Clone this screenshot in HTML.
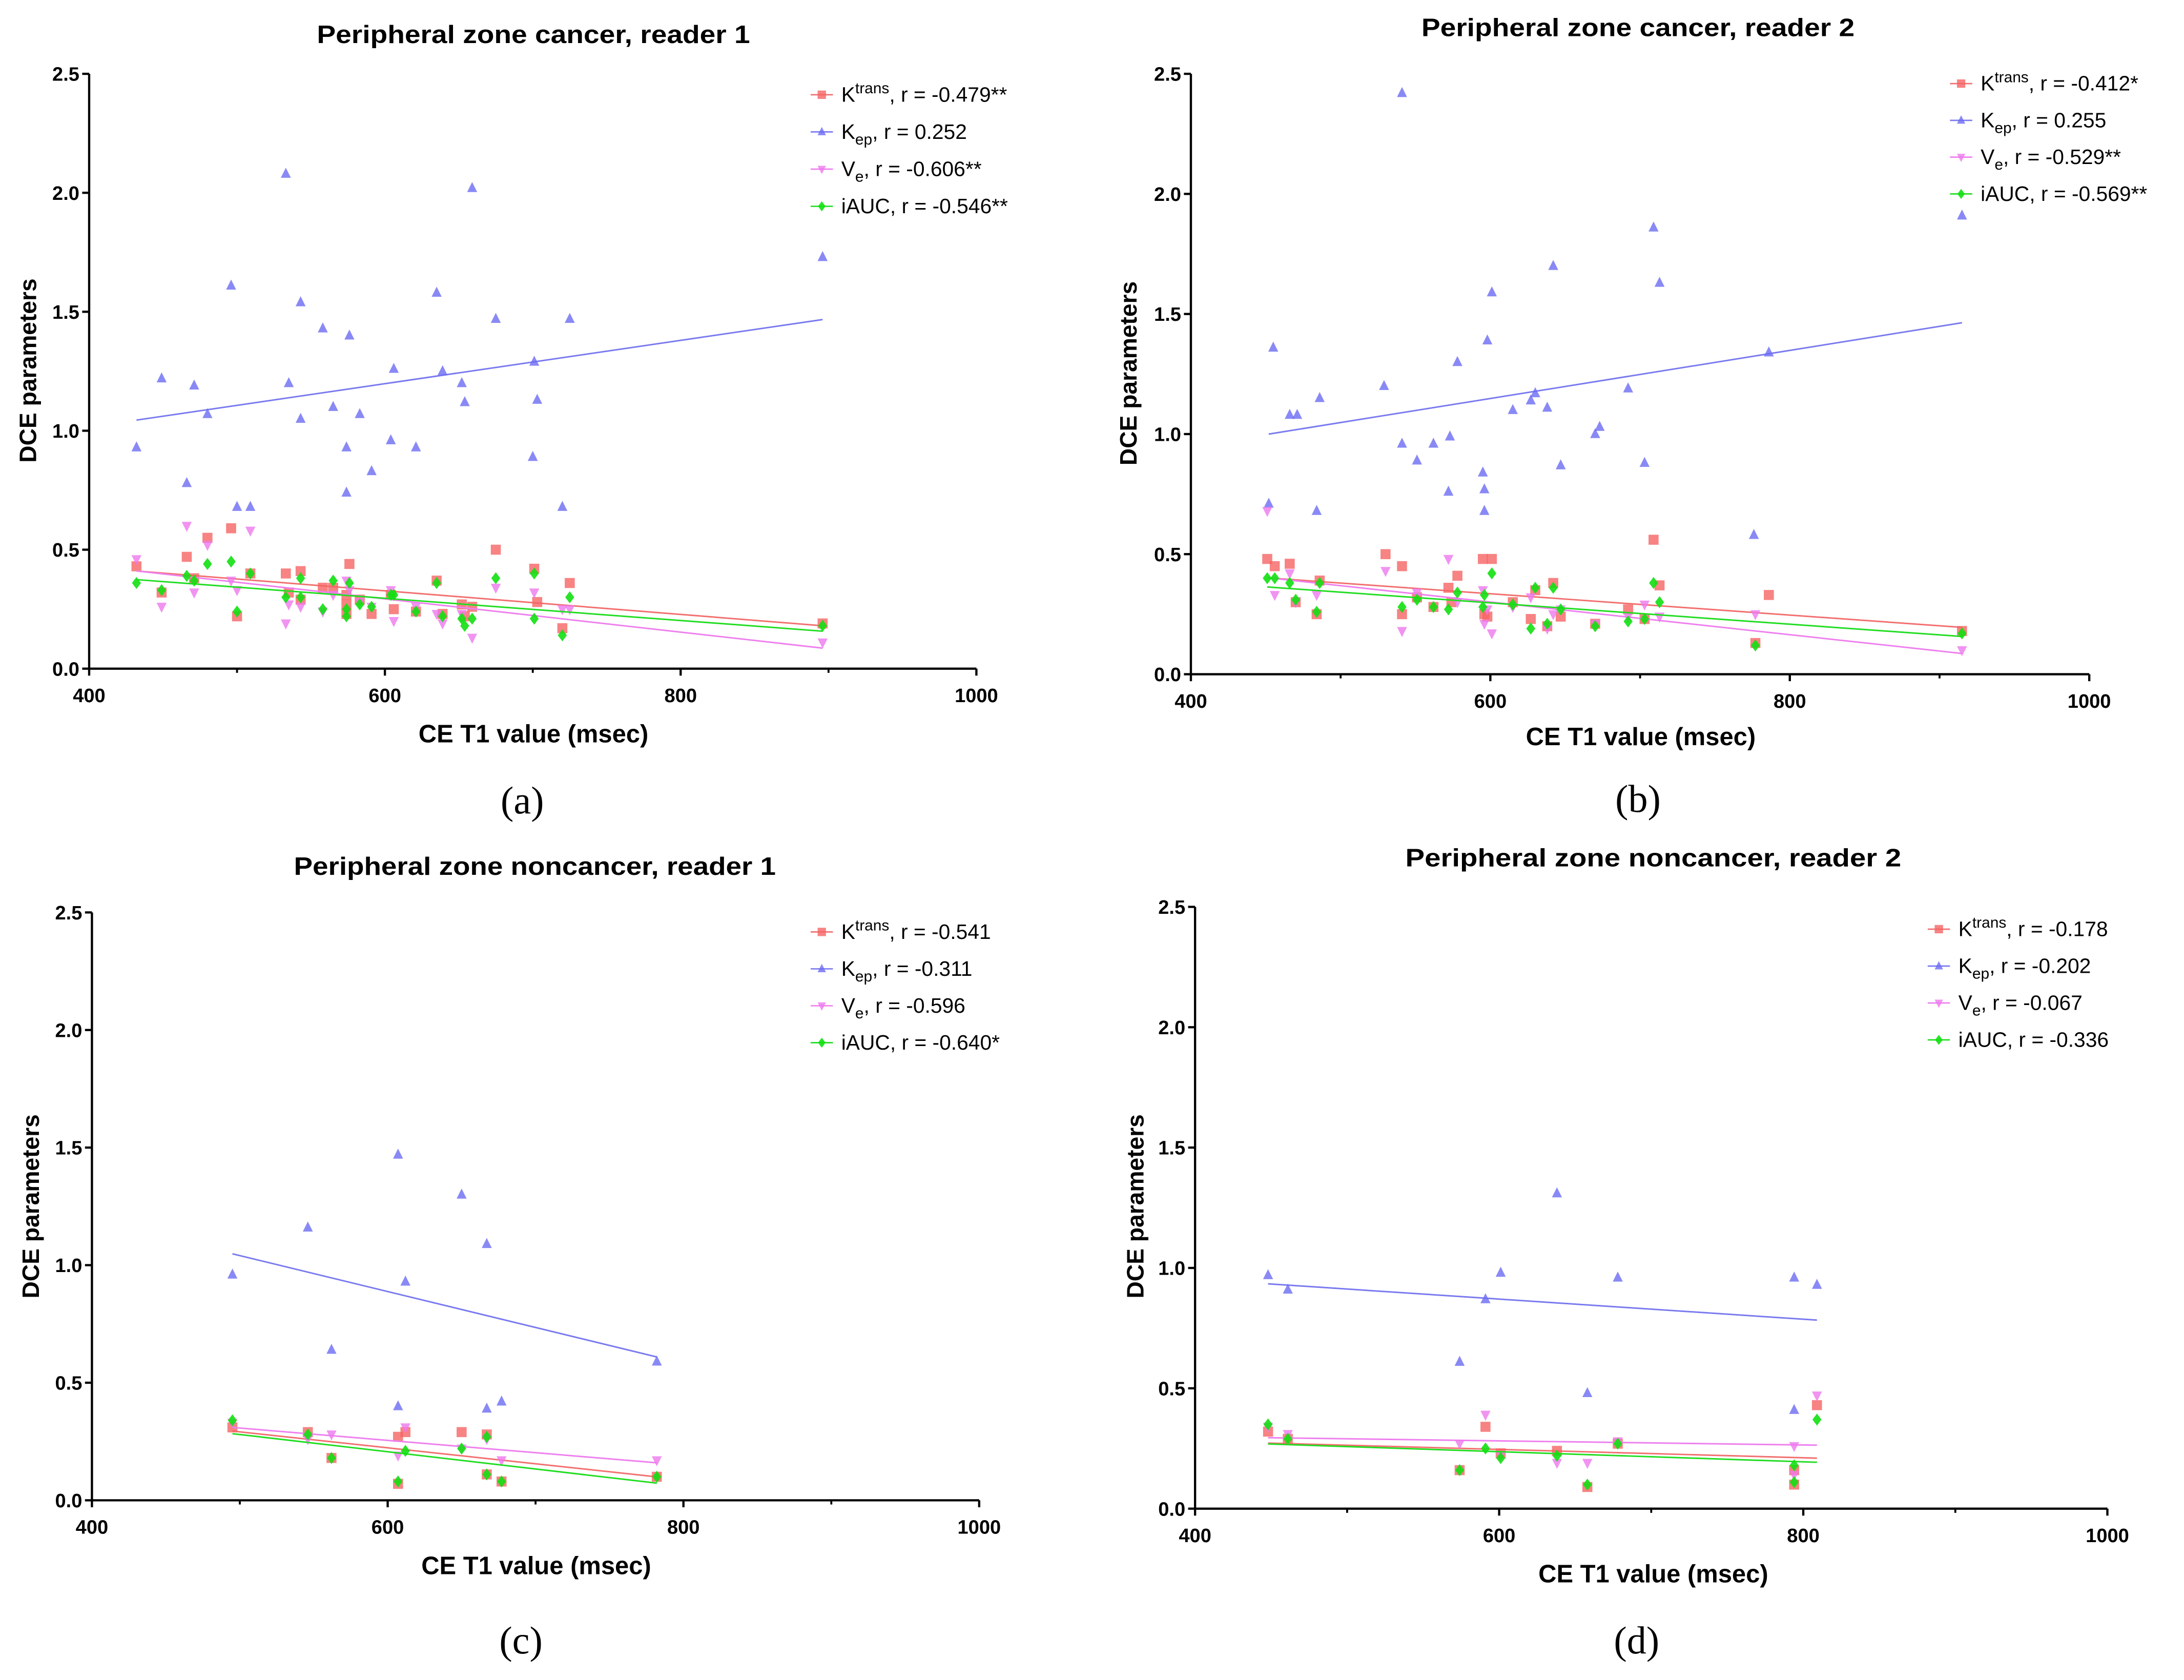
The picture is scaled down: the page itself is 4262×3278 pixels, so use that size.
<!DOCTYPE html>
<html><head><meta charset="utf-8"><style>
html,body{margin:0;padding:0;background:#fff}
svg{display:block}
</style></head><body>
<svg id="fig" xmlns="http://www.w3.org/2000/svg" width="4262" height="3278" viewBox="0 0 1568 1206" font-family="Liberation Sans, sans-serif"></svg>
<script>
const seriesNames=["Ktrans","Kep","Ve","iAUC"];
const xTicks=[400,600,800,1000];
const xMinor=[500,700,900];
const yTicks=[0,0.5,1.0,1.5,2.0,2.5];
const yTickLabels=["0.0","0.5","1.0","1.5","2.0","2.5"];
const titles=["Peripheral zone cancer, reader 1","Peripheral zone cancer, reader 2","Peripheral zone noncancer, reader 1","Peripheral zone noncancer, reader 2"];
const panelLetters=["(a)","(b)","(c)","(d)"];
const xTitles=["CE T1 value  (msec)","CE T1 value  (msec)","CE  T1 value  (msec)","CE  T1 value  (msec)"];
const rLabels=[
 ["-0.479**","0.252","-0.606**","-0.546**"],
 ["-0.412*","0.255","-0.529**","-0.569**"],
 ["-0.541","-0.311","-0.596","-0.640*"],
 ["-0.178","-0.202","-0.067","-0.336"]];
const aKtrans=[[432,0.43],[449,0.32],[466,0.47],[471,0.38],[480,0.55],[496,0.59],[500,0.22],[509,0.40],[533,0.40],[535,0.32],[543,0.41],[543,0.29],[558,0.34],[565,0.34],[574,0.31],[574,0.27],[574,0.23],[576,0.44],[583,0.29],[591,0.23],[604,0.31],[606,0.25],[621,0.24],[635,0.37],[639,0.23],[652,0.27],[654,0.22],[659,0.26],[675,0.50],[701,0.42],[703,0.28],[720,0.17],[725,0.36],[896,0.19]];
const aKep=[[432,0.93],[449,1.22],[466,0.78],[471,1.19],[480,1.07],[496,1.61],[500,0.68],[509,0.68],[533,2.08],[535,1.20],[543,1.54],[543,1.05],[558,1.43],[565,1.10],[574,0.93],[574,0.74],[576,1.40],[583,1.07],[591,0.83],[604,0.96],[606,1.26],[621,0.93],[635,1.58],[639,1.25],[652,1.20],[654,1.12],[659,2.02],[675,1.47],[701,1.29],[700,0.89],[703,1.13],[720,0.68],[725,1.47],[896,1.73]];
const aVe=[[432,0.46],[449,0.26],[466,0.60],[471,0.32],[480,0.52],[496,0.37],[500,0.33],[509,0.58],[533,0.19],[535,0.27],[543,0.26],[558,0.24],[565,0.31],[574,0.37],[576,0.33],[583,0.28],[591,0.26],[604,0.33],[606,0.20],[621,0.26],[635,0.23],[639,0.19],[652,0.23],[659,0.13],[675,0.34],[701,0.32],[720,0.25],[725,0.25],[896,0.11]];
const aIAUC=[[432,0.36],[449,0.33],[466,0.39],[471,0.37],[480,0.44],[496,0.45],[500,0.24],[509,0.40],[533,0.30],[543,0.38],[543,0.30],[558,0.25],[565,0.37],[574,0.22],[574,0.25],[576,0.36],[583,0.27],[591,0.26],[604,0.31],[606,0.31],[621,0.24],[635,0.36],[639,0.22],[652,0.21],[654,0.18],[659,0.21],[675,0.38],[701,0.40],[701,0.21],[720,0.14],[725,0.30],[896,0.18]];
const bKtrans=[[451,0.48],[456,0.45],[466,0.46],[470,0.30],[484,0.25],[486,0.39],[530,0.50],[541,0.25],[541,0.45],[551,0.32],[562,0.28],[572,0.36],[574,0.30],[578,0.41],[595,0.48],[596,0.25],[598,0.24],[601,0.48],[615,0.30],[627,0.23],[630,0.35],[638,0.20],[642,0.38],[647,0.24],[670,0.21],[692,0.27],[703,0.23],[709,0.56],[713,0.37],[777,0.13],[786,0.33],[915,0.18]];
const bKep=[[452,0.71],[455,1.36],[466,1.08],[471,1.08],[484,0.68],[486,1.15],[529,1.20],[541,0.96],[541,2.42],[551,0.89],[562,0.96],[572,0.76],[573,0.99],[578,1.30],[595,0.84],[596,0.77],[596,0.68],[598,1.39],[601,1.59],[615,1.10],[627,1.14],[630,1.17],[638,1.11],[642,1.70],[647,0.87],[670,1.00],[673,1.03],[692,1.19],[703,0.88],[709,1.86],[713,1.63],[776,0.58],[786,1.34],[915,1.91]];
const bVe=[[451,0.68],[456,0.33],[466,0.42],[470,0.30],[484,0.33],[530,0.43],[541,0.18],[551,0.34],[572,0.48],[578,0.30],[595,0.35],[596,0.21],[598,0.27],[601,0.17],[615,0.28],[627,0.32],[638,0.19],[642,0.25],[647,0.27],[670,0.21],[692,0.24],[703,0.29],[713,0.24],[777,0.25],[915,0.10]];
const bIAUC=[[451,0.40],[456,0.40],[466,0.38],[470,0.31],[484,0.26],[486,0.38],[541,0.28],[551,0.31],[562,0.28],[572,0.27],[578,0.34],[595,0.28],[596,0.33],[601,0.42],[615,0.29],[627,0.19],[630,0.36],[638,0.21],[642,0.36],[647,0.27],[670,0.20],[692,0.22],[703,0.23],[709,0.38],[713,0.30],[777,0.12],[915,0.17]];
const cKtrans=[[495,0.31],[546,0.29],[562,0.18],[607,0.27],[607,0.07],[612,0.29],[650,0.29],[667,0.28],[667,0.11],[677,0.08],[782,0.10]];
const cKep=[[495,0.96],[546,1.16],[562,0.64],[607,1.47],[607,0.40],[612,0.93],[650,1.30],[667,1.09],[667,0.39],[677,0.42],[782,0.59]];
const cVe=[[495,0.33],[546,0.26],[562,0.28],[607,0.19],[612,0.31],[650,0.22],[667,0.26],[677,0.17],[782,0.17]];
const cIAUC=[[495,0.34],[546,0.28],[562,0.18],[607,0.08],[612,0.21],[650,0.22],[667,0.27],[667,0.11],[677,0.08],[782,0.10]];
const dKtrans=[[448,0.32],[461,0.29],[574,0.16],[591,0.34],[601,0.23],[638,0.24],[658,0.09],[678,0.27],[794,0.16],[794,0.10],[809,0.43]];
const dKep=[[448,0.97],[461,0.91],[574,0.61],[591,0.87],[601,0.98],[638,1.31],[658,0.48],[678,0.96],[794,0.96],[794,0.41],[809,0.93]];
const dVe=[[448,0.34],[461,0.31],[574,0.27],[591,0.39],[601,0.22],[638,0.19],[658,0.19],[678,0.28],[794,0.26],[794,0.14],[809,0.47]];
const dIAUC=[[448,0.35],[461,0.29],[574,0.16],[591,0.25],[601,0.21],[638,0.22],[658,0.10],[678,0.27],[794,0.18],[794,0.11],[809,0.37]];

const panelData=[[aKtrans,aKep,aVe,aIAUC],[bKtrans,bKep,bVe,bIAUC],[cKtrans,cKep,cVe,cIAUC],[dKtrans,dKep,dVe,dIAUC]];
const colors=["#f56464","#6b6bf2","#ee78ee","#11e011"];
const lineColors=["#f27070","#7a7af0","#ee80ee","#22dd22"];
const layouts=[
 {x0:64,x1:701,y0:480,y1:53,title:[383,25],xt:[383,527],yt:[20,266],let:[375,575],leg:[590,68,26.7]},
 {x0:855,x1:1500,y0:484,y1:53,title:[1176,20],xt:[1178,529],yt:[810,268],let:[1176,574],leg:[1408,60,26.4]},
 {x0:66,x1:703,y0:1077,y1:655,title:[384,622],xt:[385,1124],yt:[22,866],let:[374,1178],leg:[590,669,26.5]},
 {x0:858,x1:1513,y0:1083,y1:651,title:[1187,616],xt:[1187,1130],yt:[815,866],let:[1175,1178],leg:[1392,667,26.5]}];
const svg=document.getElementById('fig');
const NS="http://www.w3.org/2000/svg";
function mk(tag,attrs,parent){const e=document.createElementNS(NS,tag);for(const k in attrs)e.setAttribute(k,attrs[k]);(parent||svg).appendChild(e);return e;}
function marker(g,k,x,y,s){
  let e;
  if(k===0) e=mk('rect',{x:x-s,y:y-s,width:2*s,height:2*s,fill:colors[0],'fill-opacity':0.8},g);
  else if(k===1) e=mk('polygon',{points:`${x},${y-s*1.2} ${x-s},${y+s*0.8} ${x+s},${y+s*0.8}`,fill:colors[1],'fill-opacity':0.8},g);
  else if(k===2) e=mk('polygon',{points:`${x},${y+s*1.2} ${x-s},${y-s*0.8} ${x+s},${y-s*0.8}`,fill:colors[2],'fill-opacity':0.8},g);
  else e=mk('polygon',{points:`${x},${y-s*1.2} ${x+s*0.9},${y} ${x},${y+s*1.2} ${x-s*0.9},${y}`,fill:colors[3],'fill-opacity':0.9},g);
  return e;
}
layouts.forEach((L,p)=>{
  const g=mk('g',{});
  
  
  const X=v=>L.x0+(v-400)/600*(L.x1-L.x0);
  const Y=v=>L.y0+v/2.5*(L.y1-L.y0);
  const t=mk('text',{x:L.title[0],y:L.title[1]+6,'text-anchor':'middle','font-size':18,'font-weight':'bold',textLength:311,lengthAdjust:'spacingAndGlyphs'},g);t.textContent=titles[p];
  if(p>=2)t.setAttribute('textLength',p===2?346:356);
  
  const ax=mk('path',{d:`M${L.x0},${L.y1} V${L.y0} H${L.x1}`,stroke:'#000','stroke-width':1.6,fill:'none'},g);
  
  yTicks.forEach((v,i)=>{
    mk('line',{x1:L.x0-5,x2:L.x0,y1:Y(v),y2:Y(v),stroke:'#000','stroke-width':1.6},g);
    const tl=mk('text',{x:L.x0-7,y:Y(v)+5,'text-anchor':'end','font-size':14,'font-weight':'bold'},g);tl.textContent=yTickLabels[i];
    
  });
  xTicks.forEach(v=>{
    mk('line',{x1:X(v),x2:X(v),y1:L.y0,y2:L.y0+5,stroke:'#000','stroke-width':1.6},g);
    const tl=mk('text',{x:X(v),y:L.y0+24,'text-anchor':'middle','font-size':14,'font-weight':'bold'},g);tl.textContent=v;
    
  });
  xMinor.forEach(v=>mk('line',{x1:X(v),x2:X(v),y1:L.y0,y2:L.y0+3,stroke:'#000','stroke-width':1.4},g));
  const xt=mk('text',{x:L.xt[0],y:L.xt[1]+6,'text-anchor':'middle','font-size':18,'font-weight':'bold'},g);xt.textContent=xTitles[p];
  
  const yt=mk('text',{x:0,y:0,'text-anchor':'middle','font-size':17,'font-weight':'bold',transform:`translate(${L.yt[0]+6},${L.yt[1]}) rotate(-90)`},g);yt.textContent='DCE parameters';
  
  const lt=mk('text',{x:L.let[0],y:L.let[1]+9,'text-anchor':'middle','font-size':28,style:'font-family:"Liberation Serif",serif'},g);lt.textContent=panelLetters[p];
  
  panelData[p].forEach((pts,k)=>{
    const sg=mk('g',{},g);
    
    
    const n=pts.length;let sx=0,sy=0,sxx=0,sxy=0,mn=1e9,mx=-1e9;
    pts.forEach(([x,y])=>{sx+=x;sy+=y;sxx+=x*x;sxy+=x*y;mn=Math.min(mn,x);mx=Math.max(mx,x);});
    const b=(n*sxy-sx*sy)/(n*sxx-sx*sx),a=(sy-b*sx)/n;
    const ln=mk('line',{x1:X(mn),y1:Y(a+b*mn),x2:X(mx),y2:Y(a+b*mx),stroke:lineColors[k],'stroke-width':1.1},sg);
    
    pts.forEach(([x,y])=>{const m=marker(sg,k,X(x),Y(y),3.6);
      
      });
  });
  const lg=mk('g',{},g);
  
  const subs=[["K","trans",true],["K","ep",false],["V","e",false],["iAUC","",false]];
  subs.forEach((s,k)=>{
    const yy=L.leg[1]+k*L.leg[2];
    mk('line',{x1:L.leg[0]-8,x2:L.leg[0]+8,y1:yy,y2:yy,stroke:lineColors[k],'stroke-width':1},lg);
    marker(lg,k,L.leg[0],yy,3);
    const tx=mk('text',{x:L.leg[0]+14,y:yy+5,'font-size':15},lg);
    
    const t1=mk('tspan',{},tx);t1.textContent=s[0];
    if(s[1]){const t2=mk('tspan',{'font-size':11,dy:s[2]?-6:4},tx);t2.textContent=s[1];
      const t3=mk('tspan',{dy:s[2]?6:-4},tx);t3.textContent=', r = '+rLabels[p][k];}
    else{const t3=mk('tspan',{},tx);t3.textContent=', r = '+rLabels[p][k];}
  });
});
</script>
</body></html>
